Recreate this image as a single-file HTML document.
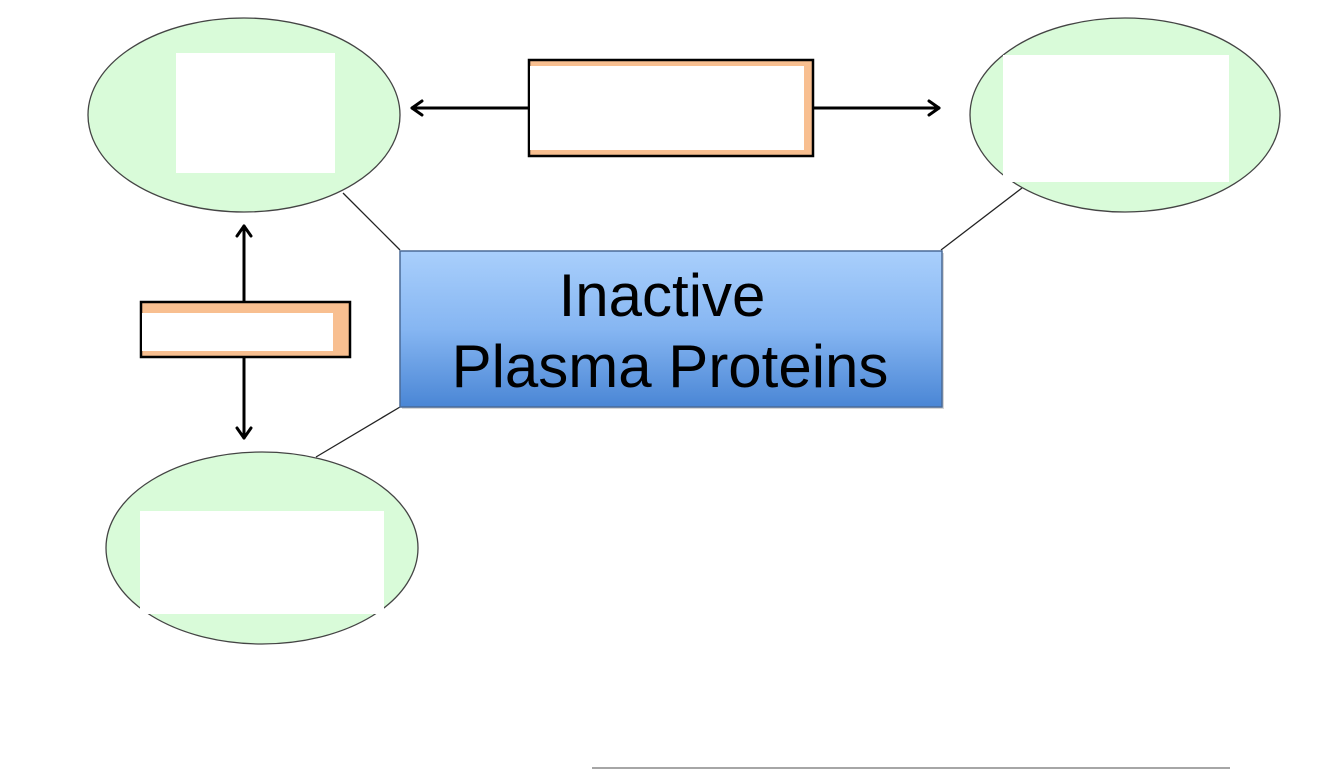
<!DOCTYPE html>
<html><head><meta charset="utf-8"><style>html,body{margin:0;padding:0;background:#fff;}svg{display:block}</style></head>
<body>
<svg width="1334" height="784" viewBox="0 0 1334 784" xmlns="http://www.w3.org/2000/svg">
<defs>
<linearGradient id="bl" x1="0" y1="0" x2="0" y2="1">
<stop offset="0" stop-color="#a9cffc"/><stop offset="0.5" stop-color="#86b6f2"/><stop offset="1" stop-color="#4a86d5"/>
</linearGradient>
</defs>
<line x1="343" y1="193" x2="400" y2="250" stroke="#222" stroke-width="1.3"/>
<line x1="941" y1="250" x2="1022" y2="188" stroke="#222" stroke-width="1.3"/>
<line x1="400" y1="407" x2="316" y2="457" stroke="#222" stroke-width="1.3"/>
<ellipse cx="244" cy="115" rx="156" ry="97" fill="#d9fbd9" stroke="#444" stroke-width="1.3"/>
<rect x="176" y="53" width="159" height="120" fill="#fff"/>
<ellipse cx="1125" cy="115" rx="155" ry="97" fill="#d9fbd9" stroke="#444" stroke-width="1.3"/>
<rect x="1003" y="55" width="226" height="127" fill="#fff"/>
<ellipse cx="262" cy="548" rx="156" ry="96" fill="#d9fbd9" stroke="#444" stroke-width="1.3"/>
<rect x="140" y="511" width="244" height="103" fill="#fff"/>
<g stroke="#000" stroke-width="3" fill="none" stroke-linecap="round" stroke-linejoin="round">
<line x1="528" y1="108" x2="412" y2="108"/><polyline points="422,101 412,108 422,115"/>
<line x1="813" y1="108" x2="939" y2="108"/><polyline points="929,101 939,108 929,115"/>
<line x1="244" y1="301" x2="244" y2="226"/><polyline points="237,236 244,226 251,236"/>
<line x1="244" y1="357" x2="244" y2="438"/><polyline points="237,428 244,438 251,428"/>
</g>
<rect x="529" y="60" width="284" height="96" fill="#f8bf90" stroke="#000" stroke-width="2.5"/>
<rect x="530" y="66" width="274" height="84" fill="#fff"/>
<rect x="141" y="302" width="209" height="55" fill="#f8bf90" stroke="#000" stroke-width="2.5"/>
<rect x="142" y="313" width="191" height="38" fill="#fff"/>
<rect x="402" y="253" width="542" height="156" fill="#999" opacity="0.4"/>
<rect x="400" y="251" width="542" height="156" fill="url(#bl)" stroke="#4a6a96" stroke-width="1.5"/>
<text x="662" y="316" text-anchor="middle" font-family="Liberation Sans, sans-serif" font-size="60" fill="#000">Inactive</text>
<text x="670" y="387" text-anchor="middle" font-family="Liberation Sans, sans-serif" font-size="60" fill="#000">Plasma Proteins</text>
<line x1="592" y1="768" x2="1230" y2="768" stroke="#888" stroke-width="1.5"/>
</svg>
</body></html>
